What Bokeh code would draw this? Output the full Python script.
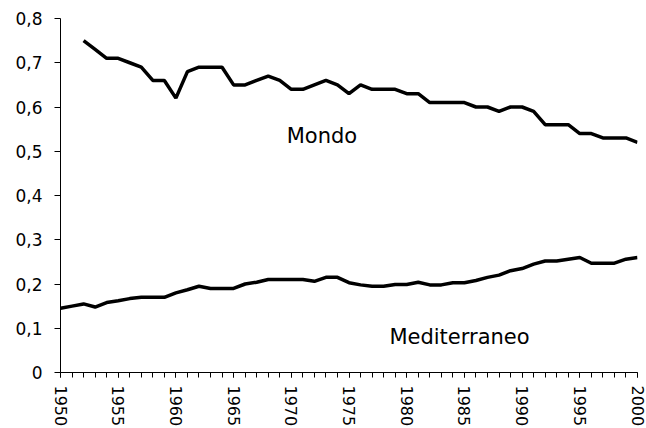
import math
from bokeh.plotting import figure
from bokeh.models import Range1d, FixedTicker, Label
from bokeh.embed import file_html
from bokeh.resources import INLINE

# ---- data ----
mondo_years = list(range(1952, 2001))
mondo = [0.75, 0.73, 0.71, 0.71, 0.70, 0.69, 0.66, 0.66, 0.62, 0.68,
         0.69, 0.69, 0.69, 0.65, 0.65, 0.66, 0.67, 0.66, 0.64, 0.64,
         0.65, 0.66, 0.65, 0.63, 0.65, 0.64, 0.64, 0.64, 0.63, 0.63,
         0.61, 0.61, 0.61, 0.61, 0.60, 0.60, 0.59, 0.60, 0.60, 0.59,
         0.56, 0.56, 0.56, 0.54, 0.54, 0.53, 0.53, 0.53, 0.52]

med_years = list(range(1950, 2001))
mediterraneo = [0.145, 0.150, 0.155, 0.148, 0.158, 0.162, 0.167, 0.170, 0.170, 0.170,
                0.180, 0.187, 0.195, 0.190, 0.190, 0.190, 0.200, 0.204, 0.210, 0.210,
                0.210, 0.210, 0.206, 0.215, 0.215, 0.203, 0.198, 0.195, 0.195, 0.199,
                0.199, 0.204, 0.198, 0.198, 0.203, 0.203, 0.208, 0.215, 0.220, 0.230,
                0.235, 0.245, 0.252, 0.252, 0.256, 0.260, 0.247, 0.247, 0.247, 0.256,
                0.260]

y_ticks = [0, 0.1, 0.2, 0.3, 0.4, 0.5, 0.6, 0.7, 0.8]
y_tick_labels = ["0", "0,1", "0,2", "0,3", "0,4", "0,5", "0,6", "0,7", "0,8"]
x_major_ticks = list(range(1950, 2001, 5))
x_minor_ticks = list(range(1950, 2001, 1))
series_labels = ["Mondo", "Mediterraneo"]

FONT = "DejaVu Sans"

p = figure(frame_width=577, frame_height=354,
           x_range=Range1d(1950, 2000), y_range=Range1d(0, 0.8),
           output_backend="svg", toolbar_location=None,
           min_border_left=60, min_border_top=18, min_border_right=9,
           min_border_bottom=10)
p.outline_line_color = None
p.xgrid.visible = False
p.ygrid.visible = False
p.background_fill_color = "white"
p.border_fill_color = "white"

p.line(mondo_years, mondo, line_color="black", line_width=3.5)
p.line(med_years, mediterraneo, line_color="black", line_width=3.5)

# x axis
xa = p.xaxis[0]
xa.ticker = FixedTicker(ticks=x_major_ticks, minor_ticks=x_minor_ticks)
xa.major_label_orientation = -math.pi / 2
xa.major_label_text_font = FONT
xa.major_label_text_font_size = "16px"
xa.major_label_text_color = "black"
xa.major_label_standoff = 8
xa.major_tick_in = 0
xa.major_tick_out = 5
xa.minor_tick_in = 0
xa.minor_tick_out = 5
xa.axis_line_color = "black"
xa.major_tick_line_color = "black"
xa.minor_tick_line_color = "black"

# y axis
ya = p.yaxis[0]
ya.ticker = FixedTicker(ticks=y_ticks)
ya.major_label_overrides = {t: l for t, l in zip(y_ticks, y_tick_labels)}
ya.major_label_text_font = FONT
ya.major_label_text_font_size = "17px"
ya.major_label_text_color = "black"
ya.major_label_standoff = 12
ya.major_tick_in = 0
ya.major_tick_out = 6
ya.minor_tick_line_color = None
ya.axis_line_color = "black"
ya.major_tick_line_color = "black"

p.add_layout(Label(x=1969.6, y=0.535, text=series_labels[0], text_font=FONT,
                   text_font_size="21px", text_color="black",
                   text_baseline="alphabetic", text_align="left"))
p.add_layout(Label(x=1978.5, y=0.08, text=series_labels[1], text_font=FONT,
                   text_font_size="21px", text_color="black",
                   text_baseline="alphabetic", text_align="left"))

open("out.html", "w").write(file_html(p, INLINE))
